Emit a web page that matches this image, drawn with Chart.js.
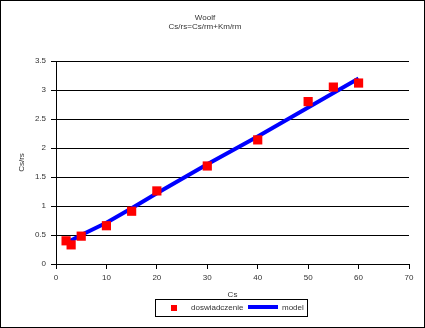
<!DOCTYPE html>
<html>
<head>
<meta charset="utf-8">
<script src="https://cdn.jsdelivr.net/npm/chart.js@4.4.0/dist/chart.umd.min.js"></script>
<style>
  html, body { margin: 0; padding: 0; background: #fff; }
  #wrap { width: 425px; height: 328px; }
</style>
</head>
<body>
<div id="wrap"><canvas id="chart" width="425" height="328"></canvas></div>
<script>
// dane
const csValues = [2, 3, 5, 10, 15, 20, 30, 40, 50, 55, 60];
const measured = [0.40, 0.33, 0.48, 0.66, 0.91, 1.26, 1.69, 2.14, 2.80, 3.05, 3.12];
const modelX = [2, 5, 10, 15, 20, 30, 40, 50, 55, 60];
const modelY = [0.36, 0.50, 0.71, 0.96, 1.22, 1.72, 2.20, 2.70, 2.95, 3.20];
const yTickLabels = ["0", "0.5", "1", "1.5", "2", "2.5", "3", "3.5"];
const xTickLabels = ["0", "10", "20", "30", "40", "50", "60", "70"];
const titleLines = ["Woolf", "Cs/rs=Cs/rm+Km/rm"];
const legendNames = ["doswiadczenie", "model"];

const FONT = "'Liberation Sans', Arial, sans-serif";
const TEXT = "#333";

// ramka wokol calego obrazka + legenda w ramce
const framePlugin = {
  id: "frame",
  afterDraw(chart) {
    const ctx = chart.ctx;
    ctx.save();
    ctx.strokeStyle = "#000";
    ctx.lineWidth = 1;
    ctx.strokeRect(0.5, 0.5, chart.width - 1, chart.height - 1);

    // legenda
    ctx.strokeRect(155.5, 299.5, 152, 17);
    ctx.fillStyle = "#ff0000";
    ctx.fillRect(171, 305, 6, 6);
    ctx.fillStyle = "#0000ff";
    ctx.fillRect(248, 305, 30, 4);
    ctx.fillStyle = TEXT;
    ctx.font = "8px " + FONT;
    ctx.textBaseline = "middle";
    ctx.textAlign = "left";
    ctx.fillText(legendNames[0], 191, 308);
    ctx.fillText(legendNames[1], 282, 308);
    ctx.restore();
  },
};

const ctx = document.getElementById("chart").getContext("2d");
const chart = new Chart(ctx, {
  type: "scatter",
  data: {
    datasets: [
      {
        label: legendNames[0],
        data: csValues.map((x, i) => ({ x: x, y: measured[i] })),
        pointStyle: "rect",
        pointRadius: 6.5,
        backgroundColor: "#ff0000",
        borderWidth: 0,
        order: 1,
      },
      {
        label: legendNames[1],
        type: "line",
        data: modelX.map((x, i) => ({ x: x, y: modelY[i] })),
        borderColor: "#0000ff",
        borderWidth: 4,
        pointRadius: 0,
        tension: 0,
        fill: false,
        order: 2,
      },
    ],
  },
  options: {
    responsive: false,
    animation: false,
    layout: { padding: { left: 1, right: 16, top: 0, bottom: 0 } },
    plugins: {
      legend: { display: false },
      tooltip: { enabled: false },
      title: {
        display: true,
        text: titleLines,
        color: TEXT,
        font: { family: FONT, size: 8, weight: "normal", lineHeight: 1.125 },
        padding: { top: 13, bottom: 30 },
      },
    },
    scales: {
      x: {
        type: "linear",
        min: 0,
        max: 70,
        afterFit: (scale) => { scale.height = 64; },
        ticks: {
          stepSize: 10,
          color: TEXT,
          font: { family: FONT, size: 8 },
          padding: 4,
          callback: (value, i) => xTickLabels[i],
        },
        grid: { drawOnChartArea: false, drawTicks: true, tickLength: 5, color: "#000" },
        border: { color: "#000", width: 1 },
        title: {
          display: true,
          text: "Cs",
          color: TEXT,
          font: { family: FONT, size: 8 },
          padding: { top: 0, bottom: 28 },
        },
      },
      y: {
        type: "linear",
        min: 0,
        max: 3.5,
        afterFit: (scale) => { scale.width = 55; },
        ticks: {
          stepSize: 0.5,
          color: TEXT,
          font: { family: FONT, size: 8 },
          padding: 5,
          callback: (value, i) => yTickLabels[i],
        },
        grid: { color: "#000", lineWidth: 1, drawTicks: true, tickLength: 5 },
        border: { color: "#000", width: 1 },
        title: {
          display: true,
          text: "Cs/rs",
          color: TEXT,
          font: { family: FONT, size: 8 },
          padding: { top: 16, bottom: 0 },
        },
      },
    },
  },
  plugins: [framePlugin],
});
</script>
</body>
</html>
